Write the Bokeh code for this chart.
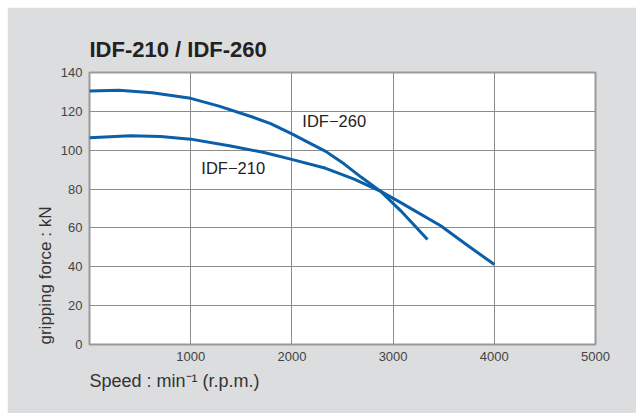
from bokeh.plotting import figure
from bokeh.models import Label, FixedTicker, Range1d, Title
from bokeh.embed import file_html
from bokeh.resources import INLINE

# ---- data ----
rpm_260 = [0, 290, 620, 1000, 1280, 1610, 1790, 2000, 2185, 2334, 2515, 2680, 2878, 3076, 3340]
force_260 = [130.5, 130.9, 129.6, 126.7, 122.7, 117.1, 113.7, 108.4, 103.4, 99.4, 93.0, 86.3, 78.8, 68.8, 54.0]

rpm_210 = [0, 405, 702, 1000, 1395, 1725, 1988, 2334, 2615, 2878, 3076, 3470, 3730, 4000]
force_210 = [106.4, 107.4, 107.0, 105.7, 102.2, 98.8, 95.4, 90.7, 85.1, 78.8, 73.0, 61.1, 51.2, 41.2]

x_ticks = [1000, 2000, 3000, 4000, 5000]
y_ticks = [0, 20, 40, 60, 80, 100, 120, 140]

title_text = "IDF-210 / IDF-260"
label_260 = "IDF\u2212260"
label_210 = "IDF\u2212210"
x_label = "Speed : min\u207b\u00b9 (r.p.m.)"
y_label = "gripping force : kN"

BG = "#dcdddf"
BLUE = "#0a5fa8"
FONT = "Liberation Sans"

p = figure(width=629, height=406, output_backend="svg", toolbar_location=None,
           x_range=Range1d(0, 5000), y_range=Range1d(0, 140))
p.margin = (7, 0, 0, 7)
p.min_border_left = 82
p.min_border_right = 41
p.min_border_top = 65
p.min_border_bottom = 69
p.border_fill_color = BG
p.background_fill_color = "white"
p.outline_line_color = "#9a9a9a"
p.outline_line_width = 2

p.title.text = title_text
p.title.text_font = FONT
p.title.text_font_size = "22px"
p.title.text_font_style = "bold"
p.title.text_color = "#222222"
p.title.align = "left"
p.title.standoff = 21

p.xaxis.ticker = FixedTicker(ticks=x_ticks)
p.yaxis.ticker = FixedTicker(ticks=y_ticks)
for ax in (p.xaxis, p.yaxis):
    ax.axis_line_color = None
    ax.major_tick_line_color = None
    ax.minor_tick_line_color = None
    ax.major_tick_out = 0
    ax.major_tick_in = 0
    ax.minor_tick_out = 0
    ax.minor_tick_in = 0
    ax.major_label_text_font = FONT
    ax.major_label_text_font_size = "13px"
    ax.major_label_text_color = "#444444"
p.xaxis.major_label_standoff = 7
p.yaxis.major_label_standoff = 7

p.xgrid.ticker = FixedTicker(ticks=x_ticks)
p.ygrid.ticker = FixedTicker(ticks=y_ticks)
for g in (p.xgrid, p.ygrid):
    g.grid_line_color = "#8c8c8c"
    g.grid_line_width = 1

p.line(rpm_260, force_260, line_color=BLUE, line_width=3, line_join="round")
p.line(rpm_210, force_210, line_color=BLUE, line_width=3, line_join="round")

p.add_layout(Label(x=2103, y=114.8, text=label_260, text_font=FONT,
                   text_font_size="16.5px", text_color="#222222",
                   text_align="left", text_baseline="alphabetic"))
p.add_layout(Label(x=1105, y=90.7, text=label_210, text_font=FONT,
                   text_font_size="16.5px", text_color="#222222",
                   text_align="left", text_baseline="alphabetic"))

p.add_layout(Title(text=x_label, text_font=FONT, text_font_size="18px",
                   text_font_style="normal", text_color="#333333",
                   align="left", standoff=11), "below")
p.add_layout(Title(text=y_label, text_font=FONT, text_font_size="17px",
                   text_font_style="normal", text_color="#333333",
                   align="left", standoff=5), "left")

open("out.html", "w").write(file_html(p, INLINE))
